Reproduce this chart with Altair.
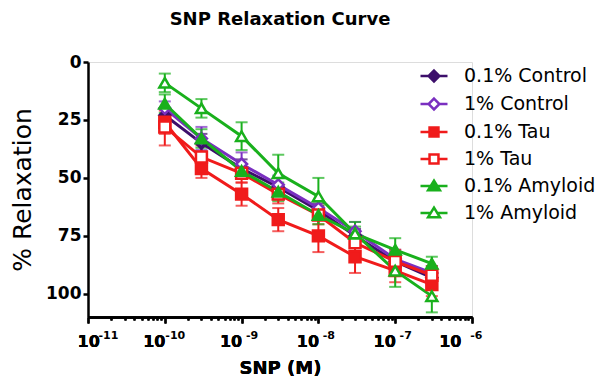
import altair as alt
import pandas as pd

# ---- data ----
conc = [1e-10, 3e-10, 1e-9, 3e-9, 1e-8, 3e-8, 1e-7, 3e-7]
series_names = ["0.1% Control", "1% Control", "0.1% Tau", "1% Tau", "0.1% Amyloid", "1% Amyloid"]

ctrl01 = [23, 35, 46, 54, 64, 75, 86, 93]
ctrl01_err = [3, 4, 4, 4, 3, 3, 4, 3]
ctrl1 = [20, 33, 44, 53, 63, 73, 85, 91]
ctrl1_err = [3, 5, 5, 4, 3, 4, 4, 3]
tau01 = [26, 46, 57, 68, 75, 84, 90, 96]
tau01_err = [5, 4, 5, 5, 7, 7, 5, 5]
tau1 = [28, 41, 48, 57, 66, 78, 86, 92]
tau1_err = [8, 5, 4, 4, 4, 4, 5, 4]
amy01 = [18, 33, 47, 56, 66, 74, 81, 87]
amy01_err = [4, 4, 3, 4, 4, 3, 5, 3]
amy1 = [9, 20, 32, 48, 58, 74, 90, 101]
amy1_err = [4, 4, 6, 8, 8, 5, 7, 7]

y_ticks = [0, 25, 50, 75, 100]
x_decades = [-11, -10, -9, -8, -7, -6]

means = [ctrl01, ctrl1, tau01, tau1, amy01, amy1]
errs = [ctrl01_err, ctrl1_err, tau01_err, tau1_err, amy01_err, amy1_err]

rows = []
for name, m, e in zip(series_names, means, errs):
    for c, v, d in zip(conc, m, e):
        rows.append({"series": name, "conc": c, "mean": v, "lo": v - d, "hi": v + d})
df = pd.DataFrame(rows)

# ---- styles ----
colors = ["#3d0f6b", "#7a2fc0", "#f01b1b", "#f01b1b", "#19b01c", "#19b01c"]
fills = ["#3d0f6b", "#ffffff", "#f01b1b", "#ffffff", "#19b01c", "#ffffff"]
shapes = ["diamond", "diamond", "square", "square", "triangle-up", "triangle-up"]
sizes = [120, 120, 160, 160, 200, 200]

# legend symbols: marker with a short line through it
leg_shapes = [
    "M-1,0H1M0,-0.4L0.4,0L0,0.4L-0.4,0Z",
    "M-1,0H-0.4M0.4,0H1M0,-0.4L0.4,0L0,0.4L-0.4,0Z",
    "M-1,0H1M-0.33,-0.33H0.33V0.33H-0.33Z",
    "M-1,0H-0.33M0.33,0H1M-0.33,-0.33H0.33V0.33H-0.33Z",
    "M-1,0H1M0,-0.4L0.44,0.32H-0.44Z",
    "M-1,0H-0.2M0.2,0H1M0,-0.4L0.44,0.32H-0.44Z",
]

# x-axis ticks: decades plus minor ticks
axis_vals = []
for e in range(-11, -6):
    for k in range(1, 10):
        axis_vals.append(float(f"{k}e{e}"))
axis_vals.append(1e-6)
decade_vals = [float(f"1e{e}") for e in x_decades]

ex = "log(datum.value)/LN10"
is_dec = f"abs({ex} - round({ex})) < 0.001"
base_expr = f"{is_dec} ? '10' : ''"
exp_expr = f"'-' + toString(abs(round({ex})))"

FONT = "DejaVu Sans"

xscale = alt.Scale(type="log", domain=[1e-11, 1e-6], nice=False)
yscale = alt.Scale(domain=[0, 110], reverse=True, nice=False, zero=False)

x_axis = alt.Axis(
    values=axis_vals,
    labelExpr=base_expr,
    labelOverlap=False,
    tickSize={"condition": {"test": is_dec, "value": 6}, "value": 3},
    labelFontSize=16,
    labelFontWeight="bold",
    labelFont=FONT,
    labelPadding=10,
    labelOffset=-11,
    title="SNP (M)",
    titleFontSize=18,
    titleFont=FONT,
    titleFontWeight="bold",
    titlePadding=10,
    grid=False,
    domainWidth=2.5,
    tickWidth=2,
    domainColor="black",
    tickColor="black",
    labelColor="black",
    titleColor="black",
    orient="bottom",
)
x_exp_axis = alt.Axis(
    values=decade_vals,
    labelExpr=exp_expr,
    labelOverlap=False,
    ticks=False,
    tickSize=0,
    domain=False,
    labelFontSize=11,
    labelFontWeight="bold",
    labelFont=FONT,
    labelPadding=12,
    labelOffset=10,
    labelColor="black",
    grid=False,
    title=None,
    orient="bottom",
)
x_enc = alt.X("conc:Q", scale=xscale, axis=x_axis)

y_axis = alt.Axis(
    values=y_ticks,
    labelFontSize=17,
    labelFontWeight="bold",
    labelFont=FONT,
    labelPadding=2,
    tickSize=5,
    tickWidth=2.5,
    domainWidth=2.5,
    title="% Relaxation",
    titleFontSize=25,
    titleFont=FONT,
    titleFontWeight="normal",
    titlePadding=10,
    grid=False,
    domainColor="black",
    tickColor="black",
    labelColor="black",
    titleColor="black",
)

color_nl = alt.Color("series:N", scale=alt.Scale(domain=series_names, range=colors), legend=None)

base = alt.Chart(df)

errbars = base.mark_errorbar(ticks={"size": 12}, thickness=2).encode(
    x=x_enc,
    y=alt.Y("lo:Q", scale=yscale, axis=y_axis),
    y2="hi:Q",
    color=color_nl,
)

lines = base.mark_line(strokeWidth=3).encode(
    x=x_enc,
    y=alt.Y("mean:Q", scale=yscale, axis=y_axis),
    color=color_nl,
    detail="series:N",
)

points = base.mark_point(filled=False, strokeWidth=2.5, opacity=1).encode(
    x=x_enc,
    y=alt.Y("mean:Q", scale=yscale, axis=y_axis),
    color=color_nl,
    fill=alt.Fill("series:N", scale=alt.Scale(domain=series_names, range=fills), legend=None),
    shape=alt.Shape("series:N", scale=alt.Scale(domain=series_names, range=shapes), legend=None),
    size=alt.Size("series:N", scale=alt.Scale(domain=series_names, range=sizes), legend=None),
)

leg = alt.Legend(
    title=None,
    orient="none",
    legendX=331,
    legendY=-1,
    labelFontSize=19,
    labelFont=FONT,
    labelColor="black",
    symbolSize=729,
    symbolStrokeWidth=2.5,
    rowPadding=2,
    labelOffset=15,
    padding=0,
    labelLimit=300,
)

legend_layer = (
    base.transform_filter("false")
    .mark_point(filled=False, strokeWidth=2.5, opacity=1)
    .encode(
        x=alt.X("conc:Q", scale=xscale, axis=x_exp_axis),
        y=alt.Y("mean:Q", scale=yscale, axis=y_axis),
        color=alt.Color("series:N", scale=alt.Scale(domain=series_names, range=colors), legend=leg),
        fill=alt.Fill("series:N", scale=alt.Scale(domain=series_names, range=fills), legend=leg),
        shape=alt.Shape("series:N", scale=alt.Scale(domain=series_names, range=leg_shapes), legend=leg),
    )
)

chart = (
    alt.layer(errbars, lines, points, legend_layer)
    .resolve_scale(color="independent", fill="independent", shape="independent")
    .resolve_axis(x="independent")
    .properties(
        width=384,
        height=255,
        title=alt.TitleParams(
            "SNP Relaxation Curve",
            fontSize=18,
            font=FONT,
            fontWeight="bold",
            color="black",
            anchor="middle",
            offset=24,
        ),
        autosize=alt.AutoSizeParams(type="none"),
        padding={"left": 88, "top": 62, "right": 125, "bottom": 64},
    )
    .configure_view(stroke=None)
    .configure(background="white")
)

chart.save("out.html", embed_options={"renderer": "svg", "actions": False})
